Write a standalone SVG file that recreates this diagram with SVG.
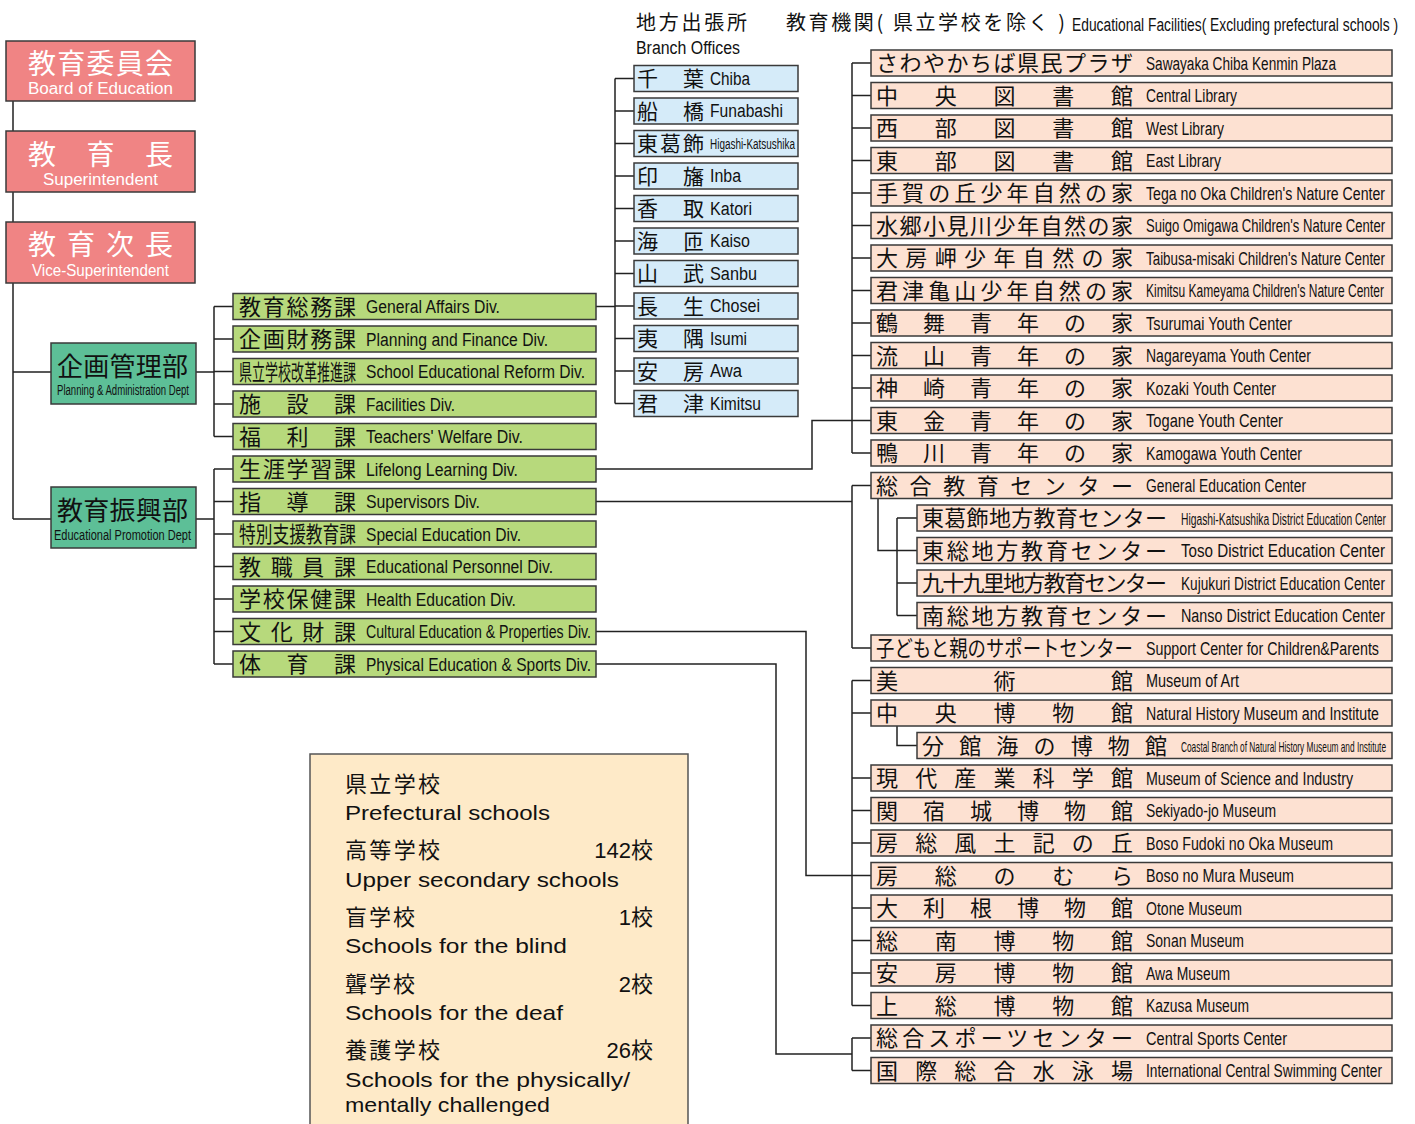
<svg xmlns="http://www.w3.org/2000/svg" width="1415" height="1124" viewBox="0 0 1415 1124">
<style>
.box{stroke:#3a3a3a;stroke-width:1.5}
.pk{fill:#f08484}.tl{fill:#5dbf97}.gr{fill:#b7d97c}.bl{fill:#d5ebf9}.pc{fill:#fde1d2}.cr{fill:#feeac8;stroke:#555;stroke-width:1.5}
.jp{font-family:"Noto Sans CJK JP",sans-serif;fill:#111}
.en{font-family:"Liberation Sans",Arial,sans-serif;fill:#111}
.wh{fill:#fff}
.j22{font-size:22px}.j21{font-size:21px}.e18{font-size:18px}
.con{fill:none;stroke:#222;stroke-width:1.5}
</style>
<rect width="1415" height="1124" fill="#fff"/>

<g id="connectors" class="con">
<path d="M13 101V519M13 372H51M13 519H51"/>
<path d="M196 372H214M214 306.5V436.5M214 306.5H233M214 339H233M214 371.5H233M214 404H233M214 436.5H233"/>
<path d="M196 519H214M214 469V664M214 469H233M214 501.5H233M214 534H233M214 566.5H233M214 599H233M214 631.5H233M214 664H233"/>
<path d="M596 306.5H615M615 78.5V403.5M615 78.5H634M615 111H634M615 143.5H634M615 176H634M615 208.5H634M615 241H634M615 273.5H634M615 306H634M615 338.5H634M615 371H634M615 403.5H634"/>
<path d="M596 469H812V420.5H852"/>
<path d="M852 63V453M852 63H871M852 95.5H871M852 128H871M852 160.5H871M852 193H871M852 225.5H871M852 258H871M852 290.5H871M852 323H871M852 355.5H871M852 388H871M852 420.5H871M852 453H871"/>
<path d="M596 501.5H852M852 485.5V648M852 485.5H871M852 648H871"/>
<path d="M878 498.5V550.5H897M897 518V615.5M897 518H917M897 550.5H917M897 583H917M897 615.5H917"/>
<path d="M596 631.5H806V875.5H852M852 680.5V1005.5M852 680.5H871M852 713H871M852 778H871M852 810.5H871M852 843H871M852 875.5H871M852 908H871M852 940.5H871M852 973H871M852 1005.5H871"/>
<path d="M897 726V745.5H917"/>
<path d="M596 664H776V1054H852M852 1038V1070.5M852 1038H871M852 1070.5H871"/>
</g>

<g id="headers">
<text class="jp" x="636" y="30" font-size="20" textLength="111" lengthAdjust="spacing">地方出張所</text>
<text class="en" x="636" y="54" font-size="18" textLength="104" lengthAdjust="spacingAndGlyphs">Branch Offices</text>
<text class="jp" x="786" y="30" font-size="20" textLength="279" lengthAdjust="spacing">教育機関( 県立学校を除く )</text>
<text class="en" x="1072" y="31" font-size="18" textLength="326" lengthAdjust="spacingAndGlyphs">Educational Facilities( Excluding prefectural schools )</text>
</g>

<g id="board">
<rect class="box pk" x="6" y="41" width="189" height="60"/>
<text class="jp wh" x="28" y="74" font-size="28" textLength="145" lengthAdjust="spacing">教育委員会</text>
<text class="en wh" x="28" y="94" font-size="16" textLength="145" lengthAdjust="spacingAndGlyphs">Board of Education</text>
</g>
<g id="superintendent">
<rect class="box pk" x="6" y="131" width="189" height="61"/>
<text class="jp wh" x="28" y="165" font-size="28" textLength="145" lengthAdjust="spacing">教育長</text>
<text class="en wh" x="43" y="185" font-size="16" textLength="115" lengthAdjust="spacingAndGlyphs">Superintendent</text>
</g>
<g id="vice">
<rect class="box pk" x="6" y="222" width="189" height="61"/>
<text class="jp wh" x="28" y="255" font-size="28" textLength="145" lengthAdjust="spacing">教育次長</text>
<text class="en wh" x="32" y="276" font-size="16" textLength="137" lengthAdjust="spacingAndGlyphs">Vice-Superintendent</text>
</g>

<g id="planning-dept">
<rect class="box tl" x="51" y="343" width="145" height="61"/>
<text class="jp" x="57" y="376" font-size="26" textLength="131" lengthAdjust="spacing">企画管理部</text>
<text class="en" x="57" y="395" font-size="14" textLength="132" lengthAdjust="spacingAndGlyphs">Planning &amp; Administration Dept</text>
</g>
<g id="promotion-dept">
<rect class="box tl" x="51" y="487" width="145" height="61"/>
<text class="jp" x="57" y="520" font-size="26" textLength="131" lengthAdjust="spacing">教育振興部</text>
<text class="en" x="54" y="540" font-size="14" textLength="137" lengthAdjust="spacingAndGlyphs">Educational Promotion Dept</text>
</g>

<g id="div-general"><rect class="box gr" x="233" y="293.5" width="363" height="26"/><text class="jp j22" x="239" y="314.5" textLength="117" lengthAdjust="spacing">教育総務課</text><text class="en e18" x="366" y="313" textLength="134" lengthAdjust="spacingAndGlyphs">General Affairs Div.</text></g>
<g id="div-planning"><rect class="box gr" x="233" y="326" width="363" height="26"/><text class="jp j22" x="239" y="347" textLength="117" lengthAdjust="spacing">企画財務課</text><text class="en e18" x="366" y="345.5" textLength="182" lengthAdjust="spacingAndGlyphs">Planning and Finance Div.</text></g>
<g id="div-reform"><rect class="box gr" x="233" y="358.5" width="363" height="26"/><text class="jp j22" x="239" y="379.5" textLength="117" lengthAdjust="spacingAndGlyphs">県立学校改革推進課</text><text class="en e18" x="366" y="378" textLength="219" lengthAdjust="spacingAndGlyphs">School Educational Reform Div.</text></g>
<g id="div-facilities"><rect class="box gr" x="233" y="391" width="363" height="26"/><text class="jp j22" x="239" y="412" textLength="117" lengthAdjust="spacing">施設課</text><text class="en e18" x="366" y="410.5" textLength="89" lengthAdjust="spacingAndGlyphs">Facilities Div.</text></g>
<g id="div-welfare"><rect class="box gr" x="233" y="423.5" width="363" height="26"/><text class="jp j22" x="239" y="444.5" textLength="117" lengthAdjust="spacing">福利課</text><text class="en e18" x="366" y="443" textLength="157" lengthAdjust="spacingAndGlyphs">Teachers' Welfare Div.</text></g>
<g id="div-lifelong"><rect class="box gr" x="233" y="456" width="363" height="26"/><text class="jp j22" x="239" y="477" textLength="117" lengthAdjust="spacing">生涯学習課</text><text class="en e18" x="366" y="475.5" textLength="152" lengthAdjust="spacingAndGlyphs">Lifelong Learning Div.</text></g>
<g id="div-supervisors"><rect class="box gr" x="233" y="488.5" width="363" height="26"/><text class="jp j22" x="239" y="509.5" textLength="117" lengthAdjust="spacing">指導課</text><text class="en e18" x="366" y="508" textLength="114" lengthAdjust="spacingAndGlyphs">Supervisors Div.</text></g>
<g id="div-special"><rect class="box gr" x="233" y="521" width="363" height="26"/><text class="jp j22" x="239" y="542" textLength="117" lengthAdjust="spacingAndGlyphs">特別支援教育課</text><text class="en e18" x="366" y="540.5" textLength="155" lengthAdjust="spacingAndGlyphs">Special Education Div.</text></g>
<g id="div-personnel"><rect class="box gr" x="233" y="553.5" width="363" height="26"/><text class="jp j22" x="239" y="574.5" textLength="117" lengthAdjust="spacing">教職員課</text><text class="en e18" x="366" y="573" textLength="187" lengthAdjust="spacingAndGlyphs">Educational Personnel Div.</text></g>
<g id="div-health"><rect class="box gr" x="233" y="586" width="363" height="26"/><text class="jp j22" x="239" y="607" textLength="117" lengthAdjust="spacing">学校保健課</text><text class="en e18" x="366" y="605.5" textLength="150" lengthAdjust="spacingAndGlyphs">Health Education Div.</text></g>
<g id="div-cultural"><rect class="box gr" x="233" y="618.5" width="363" height="26"/><text class="jp j22" x="239" y="639.5" textLength="117" lengthAdjust="spacing">文化財課</text><text class="en e18" x="366" y="638" textLength="225" lengthAdjust="spacingAndGlyphs">Cultural Education &amp; Properties Div.</text></g>
<g id="div-physical"><rect class="box gr" x="233" y="651" width="363" height="26"/><text class="jp j22" x="239" y="672" textLength="117" lengthAdjust="spacing">体育課</text><text class="en e18" x="366" y="670.5" textLength="225" lengthAdjust="spacingAndGlyphs">Physical Education &amp; Sports Div.</text></g>

<g id="br-chiba"><rect class="box bl" x="634" y="65.5" width="164" height="26"/><text class="jp j21" x="637" y="86" textLength="67" lengthAdjust="spacing">千葉</text><text class="en e18" x="710" y="84.5" textLength="40" lengthAdjust="spacingAndGlyphs">Chiba</text></g>
<g id="br-funabashi"><rect class="box bl" x="634" y="98" width="164" height="26"/><text class="jp j21" x="637" y="118.5" textLength="67" lengthAdjust="spacing">船橋</text><text class="en e18" x="710" y="117" textLength="73" lengthAdjust="spacingAndGlyphs">Funabashi</text></g>
<g id="br-higashikatsushika"><rect class="box bl" x="634" y="130.5" width="164" height="26"/><text class="jp j21" x="637" y="151" textLength="67" lengthAdjust="spacing">東葛飾</text><text class="en" x="710" y="148.5" font-size="14" textLength="85" lengthAdjust="spacingAndGlyphs">Higashi-Katsushika</text></g>
<g id="br-inba"><rect class="box bl" x="634" y="163" width="164" height="26"/><text class="jp j21" x="637" y="183.5" textLength="67" lengthAdjust="spacing">印旛</text><text class="en e18" x="710" y="182" textLength="31" lengthAdjust="spacingAndGlyphs">Inba</text></g>
<g id="br-katori"><rect class="box bl" x="634" y="195.5" width="164" height="26"/><text class="jp j21" x="637" y="216" textLength="67" lengthAdjust="spacing">香取</text><text class="en e18" x="710" y="214.5" textLength="42" lengthAdjust="spacingAndGlyphs">Katori</text></g>
<g id="br-kaiso"><rect class="box bl" x="634" y="228" width="164" height="26"/><text class="jp j21" x="637" y="248.5" textLength="67" lengthAdjust="spacing">海匝</text><text class="en e18" x="710" y="247" textLength="40" lengthAdjust="spacingAndGlyphs">Kaiso</text></g>
<g id="br-sanbu"><rect class="box bl" x="634" y="260.5" width="164" height="26"/><text class="jp j21" x="637" y="281" textLength="67" lengthAdjust="spacing">山武</text><text class="en e18" x="710" y="279.5" textLength="47" lengthAdjust="spacingAndGlyphs">Sanbu</text></g>
<g id="br-chosei"><rect class="box bl" x="634" y="293" width="164" height="26"/><text class="jp j21" x="637" y="313.5" textLength="67" lengthAdjust="spacing">長生</text><text class="en e18" x="710" y="312" textLength="50" lengthAdjust="spacingAndGlyphs">Chosei</text></g>
<g id="br-isumi"><rect class="box bl" x="634" y="325.5" width="164" height="26"/><text class="jp j21" x="637" y="346" textLength="67" lengthAdjust="spacing">夷隅</text><text class="en e18" x="710" y="344.5" textLength="37" lengthAdjust="spacingAndGlyphs">Isumi</text></g>
<g id="br-awa"><rect class="box bl" x="634" y="358" width="164" height="26"/><text class="jp j21" x="637" y="378.5" textLength="67" lengthAdjust="spacing">安房</text><text class="en e18" x="710" y="377" textLength="32" lengthAdjust="spacingAndGlyphs">Awa</text></g>
<g id="br-kimitsu"><rect class="box bl" x="634" y="390.5" width="164" height="26"/><text class="jp j21" x="637" y="411" textLength="67" lengthAdjust="spacing">君津</text><text class="en e18" x="710" y="409.5" textLength="51" lengthAdjust="spacingAndGlyphs">Kimitsu</text></g>

<g id="f-sawayaka"><rect class="box pc" x="871" y="50" width="521" height="26"/><text class="jp j22" x="876" y="71" textLength="257" lengthAdjust="spacing">さわやかちば県民プラザ</text><text class="en e18" x="1146" y="69.5" textLength="190" lengthAdjust="spacingAndGlyphs">Sawayaka Chiba Kenmin Plaza</text></g>
<g id="f-central-library"><rect class="box pc" x="871" y="82.5" width="521" height="26"/><text class="jp j22" x="876" y="103.5" textLength="257" lengthAdjust="spacing">中央図書館</text><text class="en e18" x="1146" y="102" textLength="91" lengthAdjust="spacingAndGlyphs">Central Library</text></g>
<g id="f-west-library"><rect class="box pc" x="871" y="115" width="521" height="26"/><text class="jp j22" x="876" y="136" textLength="257" lengthAdjust="spacing">西部図書館</text><text class="en e18" x="1146" y="134.5" textLength="78" lengthAdjust="spacingAndGlyphs">West Library</text></g>
<g id="f-east-library"><rect class="box pc" x="871" y="147.5" width="521" height="26"/><text class="jp j22" x="876" y="168.5" textLength="257" lengthAdjust="spacing">東部図書館</text><text class="en e18" x="1146" y="167" textLength="75" lengthAdjust="spacingAndGlyphs">East Library</text></g>
<g id="f-tega"><rect class="box pc" x="871" y="180" width="521" height="26"/><text class="jp j22" x="876" y="201" textLength="257" lengthAdjust="spacing">手賀の丘少年自然の家</text><text class="en e18" x="1146" y="199.5" textLength="239" lengthAdjust="spacingAndGlyphs">Tega no Oka Children's Nature Center</text></g>
<g id="f-suigo"><rect class="box pc" x="871" y="212.5" width="521" height="26"/><text class="jp j22" x="876" y="233.5" textLength="257" lengthAdjust="spacing">水郷小見川少年自然の家</text><text class="en e18" x="1146" y="232" textLength="239" lengthAdjust="spacingAndGlyphs">Suigo Omigawa Children's Nature Center</text></g>
<g id="f-taibusa"><rect class="box pc" x="871" y="245" width="521" height="26"/><text class="jp j22" x="876" y="266" textLength="257" lengthAdjust="spacing">大房岬少年自然の家</text><text class="en e18" x="1146" y="264.5" textLength="239" lengthAdjust="spacingAndGlyphs">Taibusa-misaki Children's Nature Center</text></g>
<g id="f-kimitsu"><rect class="box pc" x="871" y="277.5" width="521" height="26"/><text class="jp j22" x="876" y="298.5" textLength="257" lengthAdjust="spacing">君津亀山少年自然の家</text><text class="en e18" x="1146" y="297" textLength="238" lengthAdjust="spacingAndGlyphs">Kimitsu Kameyama Children's Nature Center</text></g>
<g id="f-tsurumai"><rect class="box pc" x="871" y="310" width="521" height="26"/><text class="jp j22" x="876" y="331" textLength="257" lengthAdjust="spacing">鶴舞青年の家</text><text class="en e18" x="1146" y="329.5" textLength="146" lengthAdjust="spacingAndGlyphs">Tsurumai Youth Center</text></g>
<g id="f-nagareyama"><rect class="box pc" x="871" y="342.5" width="521" height="26"/><text class="jp j22" x="876" y="363.5" textLength="257" lengthAdjust="spacing">流山青年の家</text><text class="en e18" x="1146" y="362" textLength="165" lengthAdjust="spacingAndGlyphs">Nagareyama Youth Center</text></g>
<g id="f-kozaki"><rect class="box pc" x="871" y="375" width="521" height="26"/><text class="jp j22" x="876" y="396" textLength="257" lengthAdjust="spacing">神崎青年の家</text><text class="en e18" x="1146" y="394.5" textLength="130" lengthAdjust="spacingAndGlyphs">Kozaki Youth Center</text></g>
<g id="f-togane"><rect class="box pc" x="871" y="407.5" width="521" height="26"/><text class="jp j22" x="876" y="428.5" textLength="257" lengthAdjust="spacing">東金青年の家</text><text class="en e18" x="1146" y="427" textLength="137" lengthAdjust="spacingAndGlyphs">Togane Youth Center</text></g>
<g id="f-kamogawa"><rect class="box pc" x="871" y="440" width="521" height="26"/><text class="jp j22" x="876" y="461" textLength="257" lengthAdjust="spacing">鴨川青年の家</text><text class="en e18" x="1146" y="459.5" textLength="156" lengthAdjust="spacingAndGlyphs">Kamogawa Youth Center</text></g>
<g id="f-general-ed"><rect class="box pc" x="871" y="472.5" width="521" height="26"/><text class="jp j22" x="876" y="493.5" textLength="257" lengthAdjust="spacing">総合教育センター</text><text class="en e18" x="1146" y="492" textLength="160" lengthAdjust="spacingAndGlyphs">General Education Center</text></g>
<g id="f-higashikatsushika"><rect class="box pc" x="917" y="505" width="475" height="26"/><text class="jp j22" x="922" y="526" textLength="245" lengthAdjust="spacing">東葛飾地方教育センター</text><text class="en" x="1181" y="524.5" font-size="16" textLength="205" lengthAdjust="spacingAndGlyphs">Higashi-Katsushika District Education Center</text></g>
<g id="f-toso"><rect class="box pc" x="917" y="537.5" width="475" height="26"/><text class="jp j22" x="922" y="558.5" textLength="245" lengthAdjust="spacing">東総地方教育センター</text><text class="en e18" x="1181" y="557" textLength="204" lengthAdjust="spacingAndGlyphs">Toso District Education Center</text></g>
<g id="f-kujukuri"><rect class="box pc" x="917" y="570" width="475" height="26"/><text class="jp j22" x="922" y="591" textLength="245" lengthAdjust="spacing">九十九里地方教育センター</text><text class="en e18" x="1181" y="589.5" textLength="204" lengthAdjust="spacingAndGlyphs">Kujukuri District Education Center</text></g>
<g id="f-nanso"><rect class="box pc" x="917" y="602.5" width="475" height="26"/><text class="jp j22" x="922" y="623.5" textLength="245" lengthAdjust="spacing">南総地方教育センター</text><text class="en e18" x="1181" y="622" textLength="204" lengthAdjust="spacingAndGlyphs">Nanso District Education Center</text></g>
<g id="f-support"><rect class="box pc" x="871" y="635" width="521" height="26"/><text class="jp j22" x="876" y="656" textLength="257" lengthAdjust="spacingAndGlyphs">子どもと親のサポートセンター</text><text class="en e18" x="1146" y="654.5" textLength="233" lengthAdjust="spacingAndGlyphs">Support Center for Children&amp;Parents</text></g>
<g id="f-art"><rect class="box pc" x="871" y="667.5" width="521" height="26"/><text class="jp j22" x="876" y="688.5" textLength="257" lengthAdjust="spacing">美術館</text><text class="en e18" x="1146" y="687" textLength="93" lengthAdjust="spacingAndGlyphs">Museum of Art</text></g>
<g id="f-natural-history"><rect class="box pc" x="871" y="700" width="521" height="26"/><text class="jp j22" x="876" y="721" textLength="257" lengthAdjust="spacing">中央博物館</text><text class="en e18" x="1146" y="719.5" textLength="233" lengthAdjust="spacingAndGlyphs">Natural History Museum and Institute</text></g>
<g id="f-coastal"><rect class="box pc" x="917" y="732.5" width="475" height="26"/><text class="jp j22" x="922" y="753.5" textLength="245" lengthAdjust="spacing">分館海の博物館</text><text class="en" x="1181" y="751.5" font-size="15" textLength="205" lengthAdjust="spacingAndGlyphs">Coastal Branch of Natural History Museum and Institute</text></g>
<g id="f-science"><rect class="box pc" x="871" y="765" width="521" height="26"/><text class="jp j22" x="876" y="786" textLength="257" lengthAdjust="spacing">現代産業科学館</text><text class="en e18" x="1146" y="784.5" textLength="207" lengthAdjust="spacingAndGlyphs">Museum of Science and Industry</text></g>
<g id="f-sekiyado"><rect class="box pc" x="871" y="797.5" width="521" height="26"/><text class="jp j22" x="876" y="818.5" textLength="257" lengthAdjust="spacing">関宿城博物館</text><text class="en e18" x="1146" y="817" textLength="130" lengthAdjust="spacingAndGlyphs">Sekiyado-jo Museum</text></g>
<g id="f-fudoki"><rect class="box pc" x="871" y="830" width="521" height="26"/><text class="jp j22" x="876" y="851" textLength="257" lengthAdjust="spacing">房総風土記の丘</text><text class="en e18" x="1146" y="849.5" textLength="187" lengthAdjust="spacingAndGlyphs">Boso Fudoki no Oka Museum</text></g>
<g id="f-mura"><rect class="box pc" x="871" y="862.5" width="521" height="26"/><text class="jp j22" x="876" y="883.5" textLength="257" lengthAdjust="spacing">房総のむら</text><text class="en e18" x="1146" y="882" textLength="148" lengthAdjust="spacingAndGlyphs">Boso no Mura Museum</text></g>
<g id="f-otone"><rect class="box pc" x="871" y="895" width="521" height="26"/><text class="jp j22" x="876" y="916" textLength="257" lengthAdjust="spacing">大利根博物館</text><text class="en e18" x="1146" y="914.5" textLength="96" lengthAdjust="spacingAndGlyphs">Otone Museum</text></g>
<g id="f-sonan"><rect class="box pc" x="871" y="927.5" width="521" height="26"/><text class="jp j22" x="876" y="948.5" textLength="257" lengthAdjust="spacing">総南博物館</text><text class="en e18" x="1146" y="947" textLength="98" lengthAdjust="spacingAndGlyphs">Sonan Museum</text></g>
<g id="f-awa"><rect class="box pc" x="871" y="960" width="521" height="26"/><text class="jp j22" x="876" y="981" textLength="257" lengthAdjust="spacing">安房博物館</text><text class="en e18" x="1146" y="979.5" textLength="84" lengthAdjust="spacingAndGlyphs">Awa Museum</text></g>
<g id="f-kazusa"><rect class="box pc" x="871" y="992.5" width="521" height="26"/><text class="jp j22" x="876" y="1013.5" textLength="257" lengthAdjust="spacing">上総博物館</text><text class="en e18" x="1146" y="1012" textLength="103" lengthAdjust="spacingAndGlyphs">Kazusa Museum</text></g>
<g id="f-sports"><rect class="box pc" x="871" y="1025" width="521" height="26"/><text class="jp j22" x="876" y="1046" textLength="257" lengthAdjust="spacing">総合スポーツセンター</text><text class="en e18" x="1146" y="1044.5" textLength="141" lengthAdjust="spacingAndGlyphs">Central Sports  Center</text></g>
<g id="f-swimming"><rect class="box pc" x="871" y="1057.5" width="521" height="26"/><text class="jp j22" x="876" y="1078.5" textLength="257" lengthAdjust="spacing">国際総合水泳場</text><text class="en e18" x="1146" y="1077" textLength="236" lengthAdjust="spacingAndGlyphs">International Central Swimming Center</text></g>

<g id="prefectural-schools">
<rect class="cr" x="310" y="754" width="378" height="380"/>
<text class="jp j22" x="345" y="792" textLength="95" lengthAdjust="spacing">県立学校</text>
<text class="en" x="345" y="820" font-size="21" textLength="205" lengthAdjust="spacingAndGlyphs">Prefectural schools</text>
<text class="jp j22" x="345" y="858" textLength="95" lengthAdjust="spacing">高等学校</text>
<text class="en" x="653" y="858" font-size="22" text-anchor="end" style="font-family:'Liberation Sans','Noto Sans CJK JP',sans-serif">142校</text>
<text class="en" x="345" y="887" font-size="21" textLength="274" lengthAdjust="spacingAndGlyphs">Upper secondary schools</text>
<text class="jp j22" x="345" y="925" textLength="70" lengthAdjust="spacing">盲学校</text>
<text class="en" x="653" y="925" font-size="22" text-anchor="end" style="font-family:'Liberation Sans','Noto Sans CJK JP',sans-serif">1校</text>
<text class="en" x="345" y="953" font-size="21" textLength="222" lengthAdjust="spacingAndGlyphs">Schools for the blind</text>
<text class="jp j22" x="345" y="992" textLength="70" lengthAdjust="spacing">聾学校</text>
<text class="en" x="653" y="992" font-size="22" text-anchor="end" style="font-family:'Liberation Sans','Noto Sans CJK JP',sans-serif">2校</text>
<text class="en" x="345" y="1020" font-size="21" textLength="218" lengthAdjust="spacingAndGlyphs">Schools for the deaf</text>
<text class="jp j22" x="345" y="1058" textLength="95" lengthAdjust="spacing">養護学校</text>
<text class="en" x="653" y="1058" font-size="22" text-anchor="end" style="font-family:'Liberation Sans','Noto Sans CJK JP',sans-serif">26校</text>
<text class="en" x="345" y="1087" font-size="21" textLength="285" lengthAdjust="spacingAndGlyphs">Schools for the physically/</text>
<text class="en" x="345" y="1112" font-size="21" textLength="205" lengthAdjust="spacingAndGlyphs">mentally challenged</text>
</g>
</svg>
